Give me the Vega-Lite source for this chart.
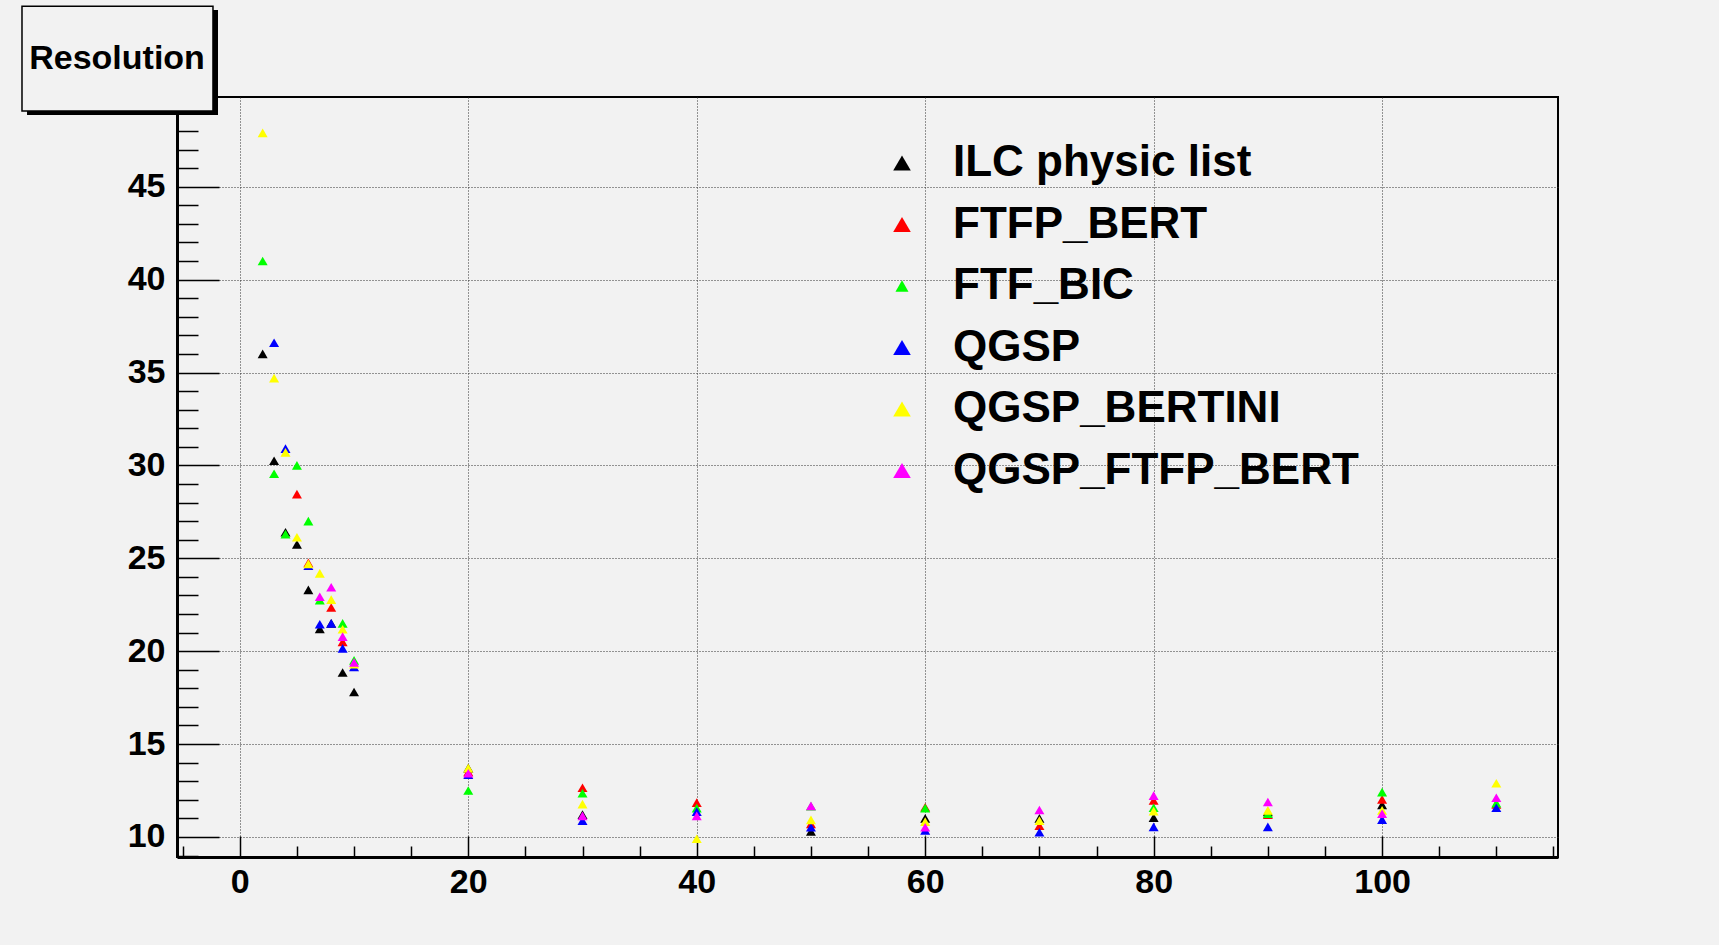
{
  "$schema": "https://vega.github.io/schema/vega-lite/v6.json",
  "width": 1381,
  "height": 760,
  "autosize": {"type": "none"},
  "padding": {"left": 177, "top": 97, "right": 161, "bottom": 88},
  "background": "#f2f2f2",
  "config": {"view": {"fill": "#f2f2f2", "stroke": "#000000", "strokeWidth": 2}},
  "datasets": {
    "points": [
      {"series": "ILC physic list", "energy": 2, "resolution": 36.0},
      {"series": "ILC physic list", "energy": 3, "resolution": 30.25},
      {"series": "ILC physic list", "energy": 4, "resolution": 26.4},
      {"series": "ILC physic list", "energy": 5, "resolution": 25.75},
      {"series": "ILC physic list", "energy": 6, "resolution": 23.3},
      {"series": "ILC physic list", "energy": 7, "resolution": 21.2},
      {"series": "ILC physic list", "energy": 8, "resolution": 21.5},
      {"series": "ILC physic list", "energy": 9, "resolution": 18.85},
      {"series": "ILC physic list", "energy": 10, "resolution": 17.8},
      {"series": "ILC physic list", "energy": 20, "resolution": 13.7},
      {"series": "ILC physic list", "energy": 30, "resolution": 11.2},
      {"series": "ILC physic list", "energy": 50, "resolution": 10.3},
      {"series": "ILC physic list", "energy": 60, "resolution": 11.0},
      {"series": "ILC physic list", "energy": 70, "resolution": 11.0},
      {"series": "ILC physic list", "energy": 80, "resolution": 11.04},
      {"series": "ILC physic list", "energy": 90, "resolution": 11.35},
      {"series": "ILC physic list", "energy": 100, "resolution": 11.73},
      {"series": "FTFP_BERT", "energy": 5, "resolution": 28.45},
      {"series": "FTFP_BERT", "energy": 6, "resolution": 24.75},
      {"series": "FTFP_BERT", "energy": 8, "resolution": 22.35},
      {"series": "FTFP_BERT", "energy": 9, "resolution": 20.5},
      {"series": "FTFP_BERT", "energy": 20, "resolution": 13.5},
      {"series": "FTFP_BERT", "energy": 30, "resolution": 12.65},
      {"series": "FTFP_BERT", "energy": 40, "resolution": 11.85},
      {"series": "FTFP_BERT", "energy": 50, "resolution": 10.7},
      {"series": "FTFP_BERT", "energy": 60, "resolution": 11.6},
      {"series": "FTFP_BERT", "energy": 70, "resolution": 10.6},
      {"series": "FTFP_BERT", "energy": 80, "resolution": 11.96},
      {"series": "FTFP_BERT", "energy": 90, "resolution": 11.2},
      {"series": "FTFP_BERT", "energy": 100, "resolution": 12.02},
      {"series": "FTFP_BERT", "energy": 110, "resolution": 11.75},
      {"series": "FTF_BIC", "energy": 2, "resolution": 41.0},
      {"series": "FTF_BIC", "energy": 3, "resolution": 29.55},
      {"series": "FTF_BIC", "energy": 4, "resolution": 26.3},
      {"series": "FTF_BIC", "energy": 5, "resolution": 30.0},
      {"series": "FTF_BIC", "energy": 6, "resolution": 27.0},
      {"series": "FTF_BIC", "energy": 7, "resolution": 22.75},
      {"series": "FTF_BIC", "energy": 9, "resolution": 21.5},
      {"series": "FTF_BIC", "energy": 10, "resolution": 19.5},
      {"series": "FTF_BIC", "energy": 20, "resolution": 12.5},
      {"series": "FTF_BIC", "energy": 30, "resolution": 12.35},
      {"series": "FTF_BIC", "energy": 40, "resolution": 11.55},
      {"series": "FTF_BIC", "energy": 50, "resolution": 11.65},
      {"series": "FTF_BIC", "energy": 60, "resolution": 11.55},
      {"series": "FTF_BIC", "energy": 80, "resolution": 11.57},
      {"series": "FTF_BIC", "energy": 90, "resolution": 11.25},
      {"series": "FTF_BIC", "energy": 100, "resolution": 12.41},
      {"series": "FTF_BIC", "energy": 110, "resolution": 11.82},
      {"series": "QGSP", "energy": 3, "resolution": 36.6},
      {"series": "QGSP", "energy": 4, "resolution": 30.9},
      {"series": "QGSP", "energy": 6, "resolution": 24.6},
      {"series": "QGSP", "energy": 7, "resolution": 21.45},
      {"series": "QGSP", "energy": 8, "resolution": 21.5},
      {"series": "QGSP", "energy": 9, "resolution": 20.15},
      {"series": "QGSP", "energy": 10, "resolution": 19.15},
      {"series": "QGSP", "energy": 20, "resolution": 13.35},
      {"series": "QGSP", "energy": 30, "resolution": 10.88},
      {"series": "QGSP", "energy": 40, "resolution": 11.36},
      {"series": "QGSP", "energy": 50, "resolution": 10.52},
      {"series": "QGSP", "energy": 60, "resolution": 10.35},
      {"series": "QGSP", "energy": 70, "resolution": 10.25},
      {"series": "QGSP", "energy": 80, "resolution": 10.54},
      {"series": "QGSP", "energy": 90, "resolution": 10.54},
      {"series": "QGSP", "energy": 100, "resolution": 10.93},
      {"series": "QGSP", "energy": 110, "resolution": 11.57},
      {"series": "QGSP_BERTINI", "energy": 2, "resolution": 47.9},
      {"series": "QGSP_BERTINI", "energy": 3, "resolution": 34.7},
      {"series": "QGSP_BERTINI", "energy": 4, "resolution": 30.7},
      {"series": "QGSP_BERTINI", "energy": 5, "resolution": 26.13},
      {"series": "QGSP_BERTINI", "energy": 6, "resolution": 24.7},
      {"series": "QGSP_BERTINI", "energy": 7, "resolution": 24.19},
      {"series": "QGSP_BERTINI", "energy": 8, "resolution": 22.77},
      {"series": "QGSP_BERTINI", "energy": 9, "resolution": 21.18},
      {"series": "QGSP_BERTINI", "energy": 10, "resolution": 19.3},
      {"series": "QGSP_BERTINI", "energy": 20, "resolution": 13.7},
      {"series": "QGSP_BERTINI", "energy": 30, "resolution": 11.77},
      {"series": "QGSP_BERTINI", "energy": 40, "resolution": 9.9},
      {"series": "QGSP_BERTINI", "energy": 50, "resolution": 10.92},
      {"series": "QGSP_BERTINI", "energy": 60, "resolution": 10.82},
      {"series": "QGSP_BERTINI", "energy": 70, "resolution": 10.88},
      {"series": "QGSP_BERTINI", "energy": 80, "resolution": 11.39},
      {"series": "QGSP_BERTINI", "energy": 90, "resolution": 11.43},
      {"series": "QGSP_BERTINI", "energy": 100, "resolution": 11.43},
      {"series": "QGSP_BERTINI", "energy": 110, "resolution": 12.89},
      {"series": "QGSP_FTFP_BERT", "energy": 7, "resolution": 22.93},
      {"series": "QGSP_FTFP_BERT", "energy": 8, "resolution": 23.44},
      {"series": "QGSP_FTFP_BERT", "energy": 9, "resolution": 20.78},
      {"series": "QGSP_FTFP_BERT", "energy": 10, "resolution": 19.4},
      {"series": "QGSP_FTFP_BERT", "energy": 20, "resolution": 13.43},
      {"series": "QGSP_FTFP_BERT", "energy": 30, "resolution": 11.13},
      {"series": "QGSP_FTFP_BERT", "energy": 40, "resolution": 11.13},
      {"series": "QGSP_FTFP_BERT", "energy": 50, "resolution": 11.67},
      {"series": "QGSP_FTFP_BERT", "energy": 60, "resolution": 10.52},
      {"series": "QGSP_FTFP_BERT", "energy": 70, "resolution": 11.45},
      {"series": "QGSP_FTFP_BERT", "energy": 80, "resolution": 12.22},
      {"series": "QGSP_FTFP_BERT", "energy": 90, "resolution": 11.88},
      {"series": "QGSP_FTFP_BERT", "energy": 100, "resolution": 11.25},
      {"series": "QGSP_FTFP_BERT", "energy": 110, "resolution": 12.11}
    ]
  },
  "layer": [
    {
      "data": {"name": "points"},
      "mark": {"type": "point", "shape": "triangle-up", "filled": true, "size": 100, "opacity": 1, "strokeWidth": 0},
      "encoding": {
        "x": {
          "field": "energy", "type": "quantitative",
          "scale": {"domain": [-5.5, 115.4], "nice": false, "zero": false},
          "axis": {
            "title": null,
            "tickCount": 200,
            "format": "d",
            "values": [-5, 0, 5, 10, 15, 20, 25, 30, 35, 40, 45, 50, 55, 60, 65, 70, 75, 80, 85, 90, 95, 100, 105, 110, 115],
            "labelExpr": "(datum.value % 20 === 0 && datum.value >= 0 && datum.value <= 100) ? datum.label : ''",
            "labelOverlap": false,
            "labelBound": false,
            "labelFlush": false,
            "labelFont": "Liberation Sans",
            "labelFontWeight": "bold",
            "labelFontSize": 34,
            "labelColor": "#000000",
            "labelPadding": 29,
            "tickSize": {"condition": {"test": "datum.value % 20 === 0", "value": -21}, "value": -11},
            "tickColor": "#000000",
            "tickWidth": 1.5,
            "domainColor": "#000000",
            "domainWidth": 3,
            "grid": true,
            "gridColor": "#333333",
            "gridWidth": 1,
            "gridDash": [1, 2],
            "gridOpacity": {"condition": {"test": "datum.value % 20 === 0", "value": 1}, "value": 0}
          }
        },
        "y": {
          "field": "resolution", "type": "quantitative",
          "scale": {"domain": [8.92, 49.83], "nice": false, "zero": false},
          "axis": {
            "title": null,
            "tickCount": 200,
            "format": "d",
            "values": [9, 10, 11, 12, 13, 14, 15, 16, 17, 18, 19, 20, 21, 22, 23, 24, 25, 26, 27, 28, 29, 30, 31, 32, 33, 34, 35, 36, 37, 38, 39, 40, 41, 42, 43, 44, 45, 46, 47, 48, 49],
            "labelExpr": "(datum.value % 5 === 0) ? datum.label : ''",
            "labelOverlap": false,
            "labelBound": false,
            "labelFlush": false,
            "labelFont": "Liberation Sans",
            "labelFontWeight": "bold",
            "labelFontSize": 34,
            "labelColor": "#000000",
            "labelPadding": 54,
            "tickSize": {"condition": {"test": "datum.value % 5 === 0", "value": -42}, "value": -21},
            "tickColor": "#000000",
            "tickWidth": 1.5,
            "domainColor": "#000000",
            "domainWidth": 3,
            "grid": true,
            "gridColor": "#333333",
            "gridWidth": 1,
            "gridDash": [1, 2],
            "gridOpacity": {"condition": {"test": "datum.value % 5 === 0", "value": 1}, "value": 0}
          }
        },
        "color": {
          "field": "series", "type": "nominal",
          "scale": {
            "domain": ["ILC physic list", "FTFP_BERT", "FTF_BIC", "QGSP", "QGSP_BERTINI", "QGSP_FTFP_BERT"],
            "range": ["#000000", "#ff0000", "#00ff00", "#0000ff", "#ffff00", "#ff00ff"]
          },
          "legend": {
            "title": null,
            "orient": "none",
            "legendX": 703,
            "legendY": 44,
            "direction": "vertical",
            "symbolType": "triangle-up",
            "symbolSize": 310,
            "symbolStrokeWidth": 0,
            "symbolOpacity": 1,
            "labelFont": "Liberation Sans",
            "labelFontWeight": "bold",
            "labelFontSize": 44,
            "labelColor": "#000000",
            "labelOffset": 29,
            "labelLimit": 1000,
            "rowPadding": 17.5,
            "padding": 0,
            "encode": {"symbols": {"update": {"size": {"signal": "datum.value === 'FTF_BIC' ? 170 : 310"}}}}
          }
        }
      }
    },
    {
      "data": {"values": [{}]},
      "mark": {"type": "rect", "fill": "#000000"},
      "encoding": {
        "x": {"datum": -18.63, "type": "quantitative", "scale": {"domain": [-5.5, 115.4], "nice": false, "zero": false}, "axis": {"title": null}},
        "x2": {"datum": -1.91},
        "y": {"datum": 54.51, "type": "quantitative", "scale": {"domain": [8.92, 49.83], "nice": false, "zero": false}, "axis": {"title": null}},
        "y2": {"datum": 48.86}
      }
    },
    {
      "data": {"values": [{}]},
      "mark": {"type": "rect", "fill": "#f2f2f2", "stroke": "#000000", "strokeWidth": 1.5},
      "encoding": {
        "x": {"datum": -19.07, "type": "quantitative", "scale": {"domain": [-5.5, 115.4], "nice": false, "zero": false}, "axis": {"title": null}},
        "x2": {"datum": -2.35},
        "y": {"datum": 54.72, "type": "quantitative", "scale": {"domain": [8.92, 49.83], "nice": false, "zero": false}, "axis": {"title": null}},
        "y2": {"datum": 49.07}
      }
    },
    {
      "data": {"values": [{}]},
      "mark": {"type": "text", "text": "Resolution", "font": "Liberation Sans", "fontWeight": "bold", "fontSize": 34, "color": "#000000", "align": "center", "baseline": "middle"},
      "encoding": {
        "x": {"datum": -10.75, "type": "quantitative", "scale": {"domain": [-5.5, 115.4], "nice": false, "zero": false}, "axis": {"title": null}},
        "y": {"datum": 51.86, "type": "quantitative", "scale": {"domain": [8.92, 49.83], "nice": false, "zero": false}, "axis": {"title": null}}
      }
    }
  ]
}
